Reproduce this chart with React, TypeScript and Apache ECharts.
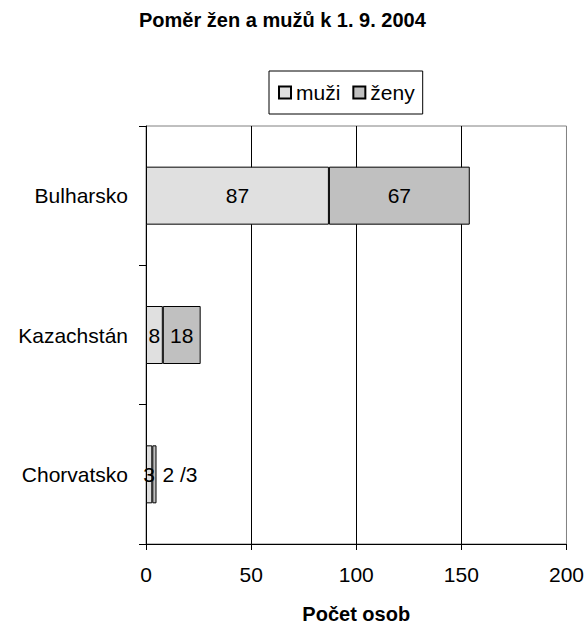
import React, { useEffect, useRef } from 'react';
import * as echarts from 'echarts';

const categories = ['Bulharsko', 'Kazachstán', 'Chorvatsko'];
const muziValues = [87, 8, 3];
const zenyValues = [67, 18, 2];
const muziLabels = ['87', '8', '3'];
const zenyLabels = ['67', '18', '2 /3'];
const zenyLabelPlacement = ['inside', 'inside', 'right'];
const seriesNames = ['muži', 'ženy'];
const titleText = 'Poměr žen a mužů k 1. 9. 2004';
const xAxisName = 'Počet osob';

const FONT = '"Liberation Sans", Arial, sans-serif';
const FS = 21;

export default function App() {
  const ref = useRef<HTMLDivElement>(null);
  useEffect(() => {
    document.body.style.margin = '0';
    if (!ref.current) return;
    const chart = echarts.init(ref.current, undefined, { renderer: 'svg' });
    chart.setOption({
      animation: false,
      backgroundColor: '#ffffff',
      textStyle: { fontFamily: FONT, color: '#000' },
      title: {
        text: titleText,
        left: 139,
        top: 10,
        padding: 0,
        textStyle: { fontFamily: FONT, fontSize: 20, fontWeight: 'bold', color: '#000' },
      },
      legend: {
        data: seriesNames,
        left: 269,
        top: 71,
        padding: [11, 8, 11, 9],
        itemWidth: 12,
        itemHeight: 12,
        itemGap: 12,
        borderColor: '#000',
        borderWidth: 1,
        icon: 'rect',
        textStyle: { fontFamily: FONT, fontSize: FS, color: '#000' },
      },
      grid: {
        left: 146,
        top: 126,
        right: 18,
        bottom: 86,
        show: true,
        borderColor: '#808080',
        borderWidth: 1,
        backgroundColor: 'transparent',
      },
      xAxis: {
        type: 'value',
        min: 0,
        max: 200,
        interval: 50,
        name: xAxisName,
        nameLocation: 'middle',
        nameGap: 60,
        nameTextStyle: { fontFamily: FONT, fontSize: 20, fontWeight: 'bold', color: '#000' },
        axisLine: { show: true, lineStyle: { color: '#000', width: 1 } },
        axisTick: { show: true, length: 6, lineStyle: { color: '#000' } },
        axisLabel: { margin: 20, fontFamily: FONT, fontSize: FS, color: '#000' },
        splitLine: {
          show: true,
          showMinLine: false,
          showMaxLine: false,
          lineStyle: { color: '#000', width: 1 },
        },
      },
      yAxis: {
        type: 'category',
        data: categories,
        inverse: true,
        axisLine: { show: true, lineStyle: { color: '#000', width: 1 } },
        axisTick: { show: true, length: 7, lineStyle: { color: '#000' } },
        axisLabel: { margin: 18, fontFamily: FONT, fontSize: FS, color: '#000' },
        splitLine: { show: false },
      },
      series: [
        {
          name: seriesNames[0],
          type: 'bar',
          stack: 'total',
          barWidth: 58,
          itemStyle: { color: '#e0e0e0', borderColor: '#000', borderWidth: 1 },
          label: {
            show: true,
            position: 'inside',
            fontFamily: FONT,
            fontSize: FS,
            color: '#000',
          },
          data: muziValues.map((v, i) => ({
            value: v,
            label: { formatter: muziLabels[i] },
          })),
        },
        {
          name: seriesNames[1],
          type: 'bar',
          stack: 'total',
          barWidth: 58,
          itemStyle: { color: '#c0c0c0', borderColor: '#000', borderWidth: 1 },
          label: {
            show: true,
            position: 'inside',
            fontFamily: FONT,
            fontSize: FS,
            color: '#000',
          },
          data: zenyValues.map((v, i) => ({
            value: v,
            label: { formatter: zenyLabels[i], position: zenyLabelPlacement[i], distance: 6 },
          })),
        },
      ],
    });
    return () => chart.dispose();
  }, []);
  return <div ref={ref} style={{ width: 587, height: 630 }} />;
}
